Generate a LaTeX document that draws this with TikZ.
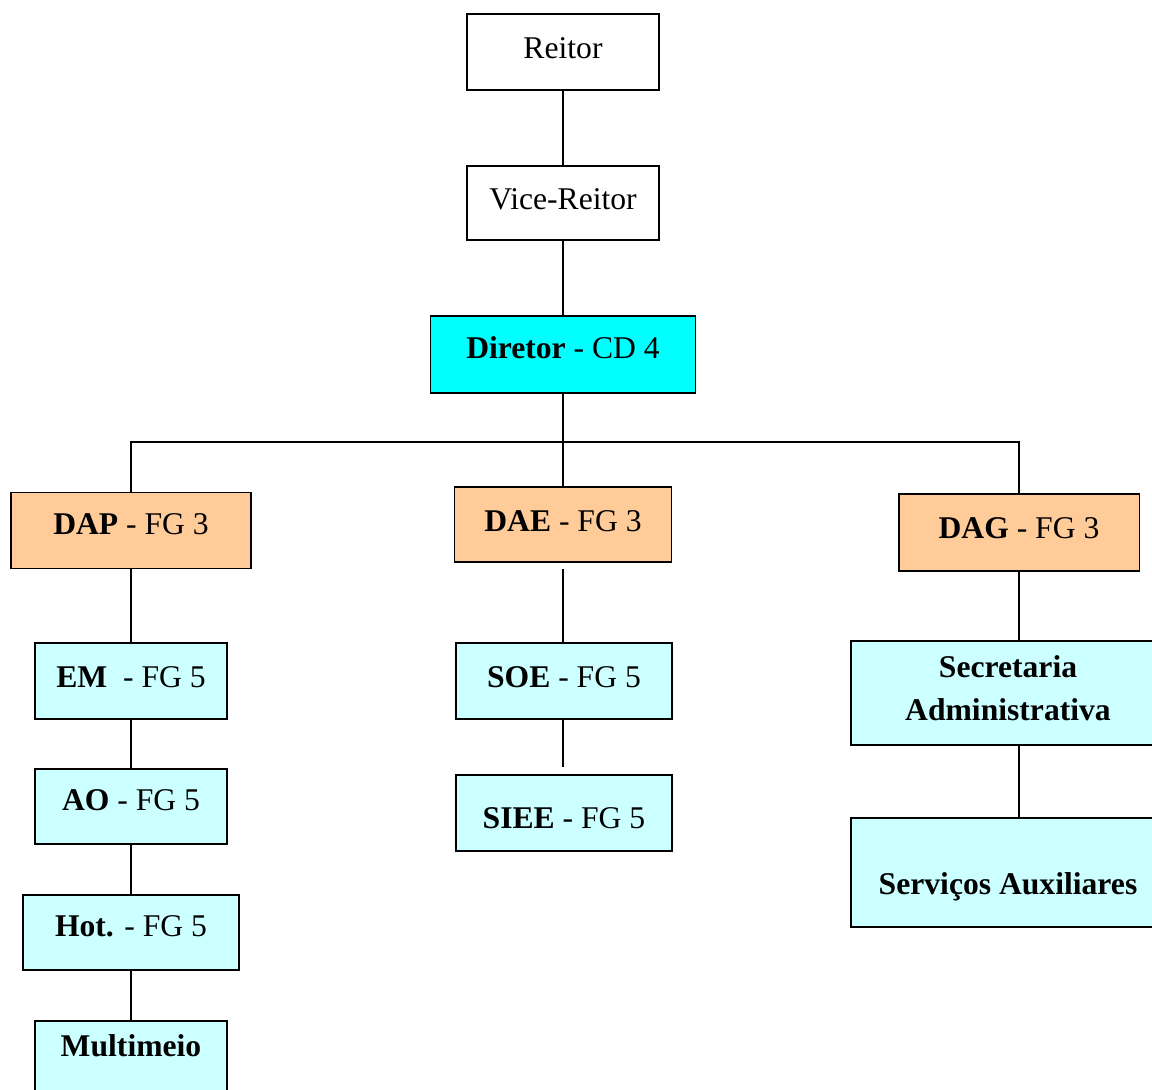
\documentclass[tikz,border=0pt]{standalone}
\usepackage{fontspec}
\setmainfont{Liberation Serif}
\usetikzlibrary{positioning}

\begin{document}
\begin{tikzpicture}[x=0.02cm,y=-0.02cm,line width=1.1pt,
  box/.style={rectangle,draw,inner sep=0pt,font=\fontsize{18}{24.4}\selectfont,
    text height=12.6pt,text depth=5.3pt},
  top node/.style={box,fill=white},
  chief node/.style={box,fill=chiefcyan},
  dept node/.style={box,fill=deptpeach},
  unit node/.style={box,fill=unitcyan}]
  \definecolor{chiefcyan}{HTML}{00FFFF}
  \definecolor{deptpeach}{HTML}{FFCC99}
  \definecolor{unitcyan}{HTML}{CCFFFF}
  \clip (0,0) rectangle (1152,1089);

  \node[top node,minimum width=3.84cm,minimum height=1.52cm] (reitor) at (563,52) {Reitor};
  \node[top node,minimum width=3.84cm,minimum height=1.48cm] (vice) at (563,203) {Vice-Reitor};
  \node[chief node,minimum width=5.30cm,minimum height=1.54cm,text depth=8.2pt] (diretor) at (563,354.5) {\textbf{Diretor} - CD 4};

  \node[dept node,minimum width=4.80cm,minimum height=1.52cm,text depth=8.2pt] (dap) at (131,530.5) {\textbf{DAP} - FG 3};
  \node[dept node,minimum width=4.34cm,minimum height=1.50cm,text depth=4.8pt] (dae) at (563,524.5) {\textbf{DAE} - FG 3};
  \node[dept node,minimum width=4.82cm,minimum height=1.54cm] (dag) at (1019,532.5) {\textbf{DAG} - FG 3};

  \node[unit node,minimum width=3.84cm,minimum height=1.52cm] (em) at (131,681) {\textbf{EM}\ \ - FG 5};
  \node[unit node,minimum width=3.84cm,minimum height=1.50cm,text depth=7.6pt] (ao) at (131,806.5) {\textbf{AO} - FG 5};
  \node[unit node,minimum width=4.32cm,minimum height=1.50cm,text depth=8.2pt] (hot) at (131,932.5) {\textbf{Hot.} - FG 5};
  \node[unit node,minimum width=3.84cm,minimum height=1.52cm,text depth=15.5pt] (multi) at (131,1059) {\textbf{Multimeio}};

  \node[unit node,minimum width=4.32cm,minimum height=1.52cm] (soe) at (564,681) {\textbf{SOE} - FG 5};
  \node[unit node,minimum width=4.32cm,minimum height=1.52cm,text height=22pt,text depth=4.5pt] (siee) at (564,813) {\textbf{SIEE} - FG 5};

  \node[unit node,minimum width=6.28cm,minimum height=2.08cm,align=center,text height=,text depth=6pt] (sec) at (1008,693) {\textbf{Secretaria}\\\textbf{Administrativa}};
  \node[unit node,minimum width=6.28cm,minimum height=2.18cm,text height=30pt,text depth=4.6pt] (serv) at (1008,872.5) {\textbf{Serviços Auxiliares}};

  \coordinate (bus) at (563,442);

\path
  (reitor) edge (vice)
  (vice) edge (diretor)
  (diretor) edge (bus)
  (dae) edge (bus)
  (dap) edge (em)
  (em) edge (ao)
  (ao) edge (hot)
  (hot) edge (multi)
  (dae) edge [shorten <=0.12cm] (dae |- soe.north)
  (soe.south -| dae) edge [shorten >=0.14cm] (siee.north -| dae)
;
  \draw (dap) |- (bus) -| (dag);
  \draw (dag) -- (dag |- sec.north);
  \draw (sec.south -| dag) -- (serv.north -| dag);
\end{tikzpicture}
\end{document}
